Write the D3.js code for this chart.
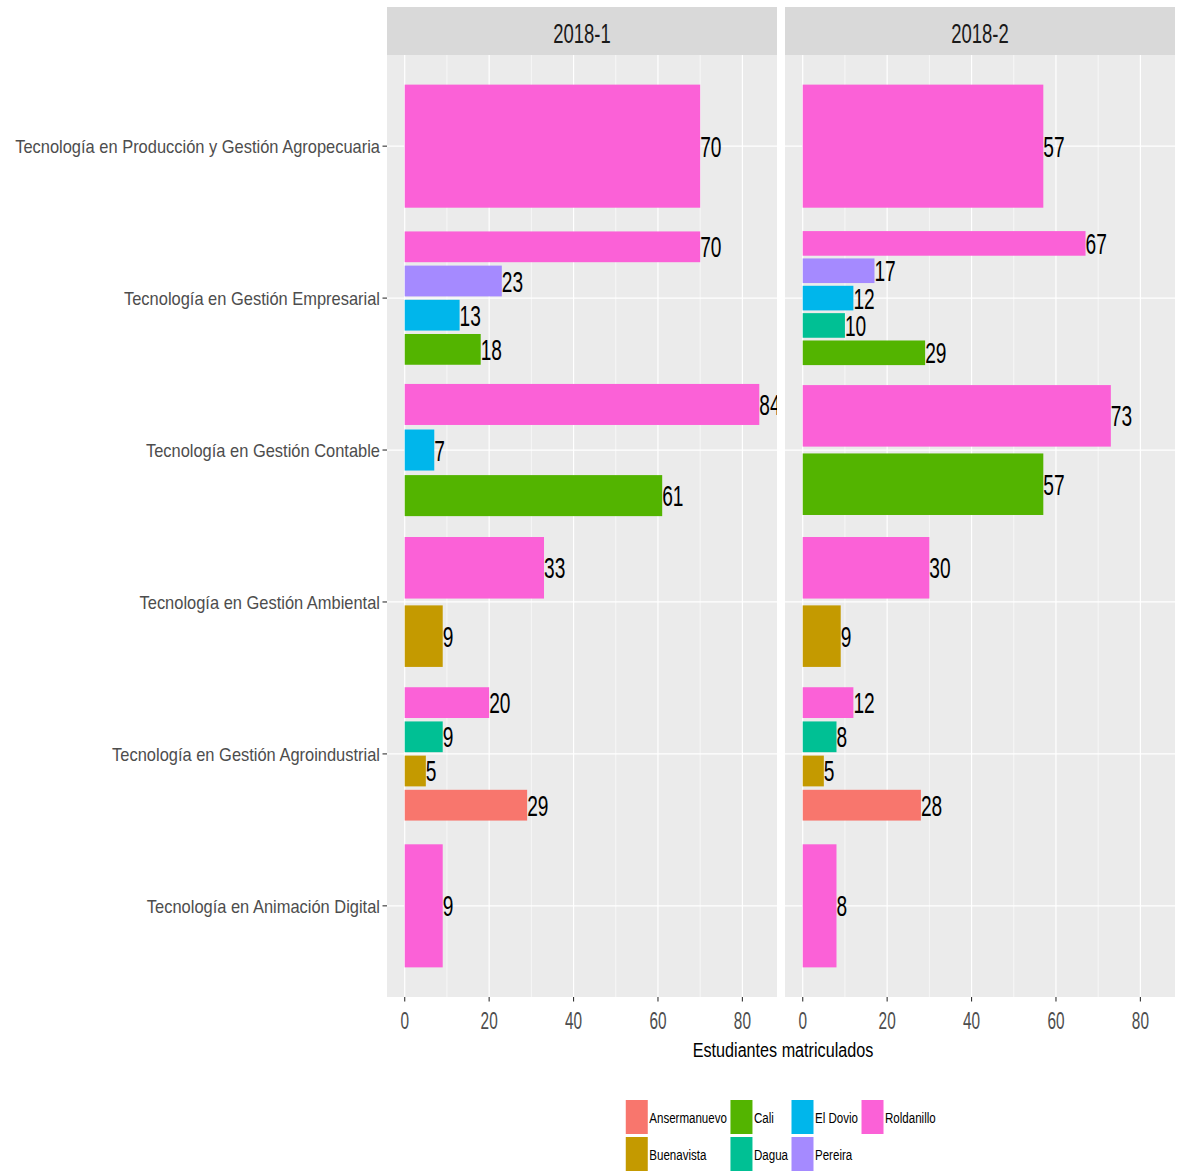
<!DOCTYPE html>
<html>
<head>
<meta charset="utf-8">
<script src="https://cdn.jsdelivr.net/npm/d3@7"></script>
<style>
  html, body { margin: 0; padding: 0; background: #ffffff; }
  svg { display: block; }
  text { font-family: "Liberation Sans", Arial, sans-serif; }
</style>
</head>
<body>
<svg id="chart" width="1179" height="1175"></svg>
<script>
// ---------------- DATA ----------------
const programs = [
  "Tecnología en Producción y Gestión Agropecuaria",
  "Tecnología en Gestión Empresarial",
  "Tecnología en Gestión Contable",
  "Tecnología en Gestión Ambiental",
  "Tecnología en Gestión Agroindustrial",
  "Tecnología en Animación Digital"
];
const cities = ["Ansermanuevo", "Buenavista", "Cali", "Dagua", "El Dovio", "Pereira", "Roldanillo"];
const cityColors = ["#F8766D", "#C49A00", "#53B400", "#00C094", "#00B6EB", "#A58AFF", "#FB61D7"];
const periods = ["2018-1", "2018-2"];
const xTicks = [0, 20, 40, 60, 80];
const xMinor = [10, 30, 50, 70];

// [program index, city, students]
const students2018_1 = [
  [0, "Roldanillo", 70],
  [1, "Roldanillo", 70], [1, "Pereira", 23], [1, "El Dovio", 13], [1, "Cali", 18],
  [2, "Roldanillo", 84], [2, "El Dovio", 7], [2, "Cali", 61],
  [3, "Roldanillo", 33], [3, "Buenavista", 9],
  [4, "Roldanillo", 20], [4, "Dagua", 9], [4, "Buenavista", 5], [4, "Ansermanuevo", 29],
  [5, "Roldanillo", 9]
];
const students2018_2 = [
  [0, "Roldanillo", 57],
  [1, "Roldanillo", 67], [1, "Pereira", 17], [1, "El Dovio", 12], [1, "Dagua", 10], [1, "Cali", 29],
  [2, "Roldanillo", 73], [2, "Cali", 57],
  [3, "Roldanillo", 30], [3, "Buenavista", 9],
  [4, "Roldanillo", 12], [4, "Dagua", 8], [4, "Buenavista", 5], [4, "Ansermanuevo", 28],
  [5, "Roldanillo", 8]
];
const periodData = [students2018_1, students2018_2];

// ---------------- LAYOUT ----------------
const svg = d3.select("#chart");
const panelTop = 55, panelBottom = 997;
const stripTop = 7;
const panelX = [387, 785];
const panelW = 390;

const color = d3.scaleOrdinal().domain(cities).range(cityColors);
const y = d3.scalePoint().domain(d3.range(programs.length)).range([panelTop, panelBottom]).padding(0.6);
const step = y.step();

function sText(g, x, yy, str, size, sx, anchor, fill) {
  return g.append("text")
    .attr("transform", `translate(${x},${yy}) scale(${sx},1)`)
    .attr("text-anchor", anchor)
    .attr("font-size", size)
    .attr("fill", fill)
    .text(str);
}

const defs = svg.append("defs");

periods.forEach((per, pi) => {
  const x0 = panelX[pi];
  const x = d3.scaleLinear().domain([-4.2, 88.2]).range([x0, x0 + panelW]);
  const g = svg.append("g");

  // strip
  g.append("rect").attr("x", x0).attr("y", stripTop).attr("width", panelW)
    .attr("height", panelTop - stripTop).attr("fill", "#D9D9D9");
  sText(g, x0 + panelW / 2, 43, per, 28, 0.66, "middle", "#1A1A1A");

  // panel background
  g.append("rect").attr("x", x0).attr("y", panelTop).attr("width", panelW)
    .attr("height", panelBottom - panelTop).attr("fill", "#EBEBEB");

  // grid
  xMinor.forEach(v => g.append("line").attr("x1", x(v)).attr("x2", x(v))
    .attr("y1", panelTop).attr("y2", panelBottom).attr("stroke", "#fff").attr("stroke-width", 0.6));
  xTicks.forEach(v => g.append("line").attr("x1", x(v)).attr("x2", x(v))
    .attr("y1", panelTop).attr("y2", panelBottom).attr("stroke", "#fff").attr("stroke-width", 1.2));
  programs.forEach((p, i) => g.append("line").attr("x1", x0).attr("x2", x0 + panelW)
    .attr("y1", y(i)).attr("y2", y(i)).attr("stroke", "#fff").attr("stroke-width", 1.2));

  // clip
  const cid = "clip" + pi;
  defs.append("clipPath").attr("id", cid).append("rect")
    .attr("x", x0).attr("y", panelTop).attr("width", panelW).attr("height", panelBottom - panelTop);
  const pg = g.append("g").attr("clip-path", `url(#${cid})`);

  const data = periodData[pi];
  programs.forEach((p, i) => {
    const rows = data.filter(d => d[0] === i)
      .sort((a, b) => cities.indexOf(b[1]) - cities.indexOf(a[1]));
    const inner = d3.scaleBand().domain(rows.map(r => r[1]))
      .range([y(i) - 0.45 * step, y(i) + 0.45 * step])
      .paddingInner(0.1).paddingOuter(0.05);
    rows.forEach(r => {
      pg.append("rect")
        .attr("x", x(0)).attr("y", inner(r[1]))
        .attr("width", x(r[2]) - x(0)).attr("height", inner.bandwidth())
        .attr("fill", color(r[1]));
    });
    rows.forEach(r => {
      sText(pg, x(r[2]), inner(r[1]) + inner.bandwidth() / 2 + 10.5, String(r[2]), 29, 0.66, "start", "#000");
    });
  });

  // x axis ticks & labels
  xTicks.forEach(v => {
    g.append("line").attr("x1", x(v)).attr("x2", x(v)).attr("y1", panelBottom).attr("y2", panelBottom + 4.5)
      .attr("stroke", "#333333").attr("stroke-width", 1.1);
    sText(g, x(v), 1029, String(v), 24, 0.64, "middle", "#4D4D4D");
  });
});

// y axis
const ya = svg.append("g");
programs.forEach((p, i) => {
  ya.append("line").attr("x1", panelX[0] - 4.5).attr("x2", panelX[0]).attr("y1", y(i)).attr("y2", y(i))
    .attr("stroke", "#333333").attr("stroke-width", 1.1);
  sText(ya, panelX[0] - 7, y(i) + 6.8, p, 19, 0.866, "end", "#4D4D4D");
});

// axis title
const midX = (panelX[0] + panelX[1] + panelW) / 2;
sText(svg, midX + 2, 1057, "Estudiantes matriculados", 21, 0.77, "middle", "#000");

// ---------------- LEGEND ----------------
const lg = svg.append("g");
const keyW = 22, keyH = 34, rowGap = 3, legTop = 1100;
const lsx = 0.77, lsize = 15;
const nRows = 2;
const nCols = Math.ceil(cities.length / nRows);
// measure label widths
const meas = svg.append("text").attr("font-size", lsize);
const widths = cities.map(c => { meas.text(c); return meas.node().getComputedTextLength() * lsx; });
meas.remove();
const colW = d3.range(nCols).map(ci => {
  const idx = d3.range(nRows).map(r => ci * nRows + r).filter(k => k < cities.length);
  return keyW + 2 + d3.max(idx, k => widths[k]) + 3;
});
const totalW = d3.sum(colW) - 3;
let cx = midX - totalW / 2;
d3.range(nCols).forEach(ci => {
  d3.range(nRows).forEach(r => {
    const k = ci * nRows + r;
    if (k >= cities.length) return;
    const ky = legTop + r * (keyH + rowGap);
    lg.append("rect").attr("x", cx).attr("y", ky).attr("width", keyW).attr("height", keyH)
      .attr("fill", color(cities[k]));
    sText(lg, cx + keyW + 1.5, ky + keyH / 2 + 5.5, cities[k], lsize, lsx, "start", "#000");
  });
  cx += colW[ci];
});
</script>
</body>
</html>
